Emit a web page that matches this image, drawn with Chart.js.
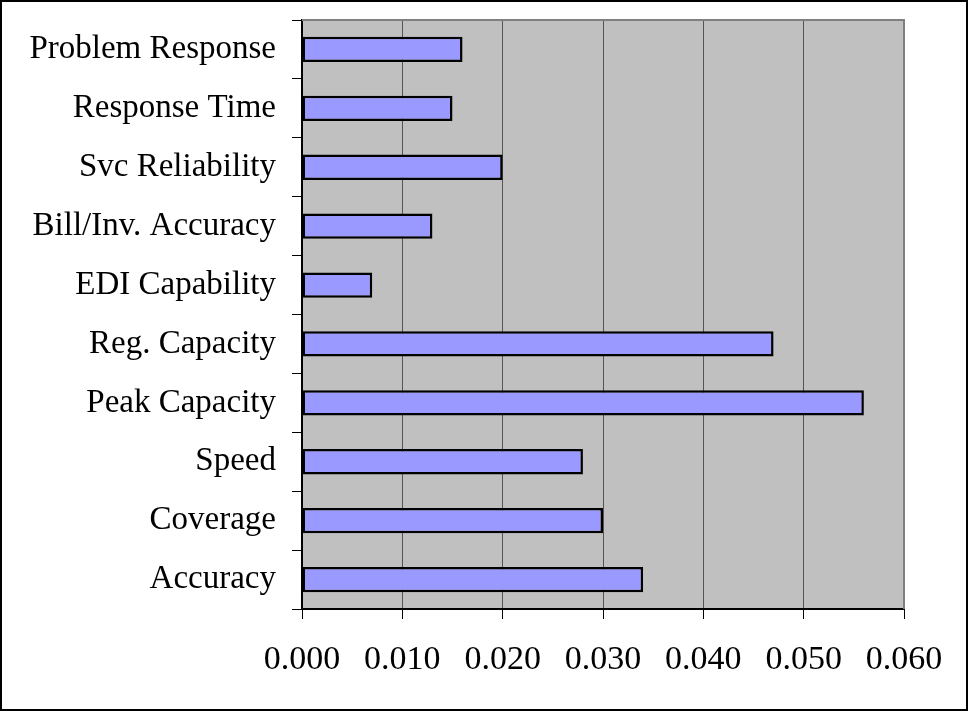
<!DOCTYPE html>
<html>
<head>
<meta charset="utf-8">
<script src="https://cdn.jsdelivr.net/npm/chart.js@4.4.0/dist/chart.umd.min.js"></script>
<style>
  body { margin: 0; background: #fff; }
  #wrap { width: 969px; height: 712px; }
</style>
</head>
<body>
<div id="wrap"><canvas id="chart" width="969" height="712"></canvas></div>
<script>
var categories = ['Problem Response', 'Response Time', 'Svc Reliability', 'Bill/Inv. Accuracy',
    'EDI Capability', 'Reg. Capacity', 'Peak Capacity', 'Speed', 'Coverage', 'Accuracy'];
var weights = [0.016, 0.015, 0.020, 0.013, 0.007, 0.047, 0.056, 0.028, 0.030, 0.034];
var xMin = 0, xMax = 0.060, xStep = 0.010;

// grey plot area, grey top/right edges and the black frame round the picture
var plotBackground = {
    id: 'plotBackground',
    beforeDraw: function(chart) {
        var ctx = chart.ctx, a = chart.chartArea;
        ctx.save();
        ctx.fillStyle = '#C0C0C0';
        ctx.fillRect(a.left, a.top, a.right - a.left, a.bottom - a.top);
        ctx.restore();
    },
    afterDraw: function(chart) {
        var ctx = chart.ctx, a = chart.chartArea;
        ctx.save();
        ctx.strokeStyle = '#808080';
        ctx.lineWidth = 2;
        ctx.beginPath();
        ctx.moveTo(a.left, a.top);
        ctx.lineTo(a.right, a.top);
        ctx.lineTo(a.right, a.bottom);
        ctx.stroke();
        ctx.strokeStyle = '#000';
        ctx.lineWidth = 2;
        ctx.strokeRect(1, 1, chart.width - 3, chart.height - 3);
        ctx.restore();
    }
};

var ctx = document.getElementById('chart').getContext('2d');
var chart = new Chart(ctx, {
    type: 'bar',
    data: {
        labels: categories,
        datasets: [{
            data: weights,
            backgroundColor: '#9999FF',
            borderColor: '#000000',
            borderWidth: 2.5,
            borderSkipped: false,
            categoryPercentage: 1.0,
            barPercentage: 0.43
        }]
    },
    options: {
        indexAxis: 'y',
        responsive: false,
        animation: false,
        layout: { padding: { top: 20, right: 65, left: 0, bottom: 0 } },
        plugins: {
            legend: { display: false },
            tooltip: { enabled: false }
        },
        scales: {
            x: {
                min: xMin,
                max: xMax,
                ticks: {
                    stepSize: xStep,
                    color: '#000',
                    padding: 21,
                    font: { family: 'Liberation Serif', size: 34 },
                    callback: function(v) { return Number(v).toFixed(3); }
                },
                grid: { color: '#555', lineWidth: 1, tickLength: 10, tickColor: '#000' },
                border: { color: '#000', width: 2 },
                afterFit: function(s) { s.height = 103; s.paddingLeft = 0; s.paddingRight = 0; }
            },
            y: {
                ticks: {
                    color: '#000',
                    padding: 16,
                    font: { family: 'Liberation Serif', size: 33 }
                },
                grid: { drawOnChartArea: false, tickLength: 10, color: '#000', offset: true },
                border: { color: '#000', width: 2 },
                afterFit: function(s) { s.width = 302; s.paddingTop = 0; s.paddingBottom = 0; }
            }
        }
    },
    plugins: [plotBackground]
});
</script>
</body>
</html>
